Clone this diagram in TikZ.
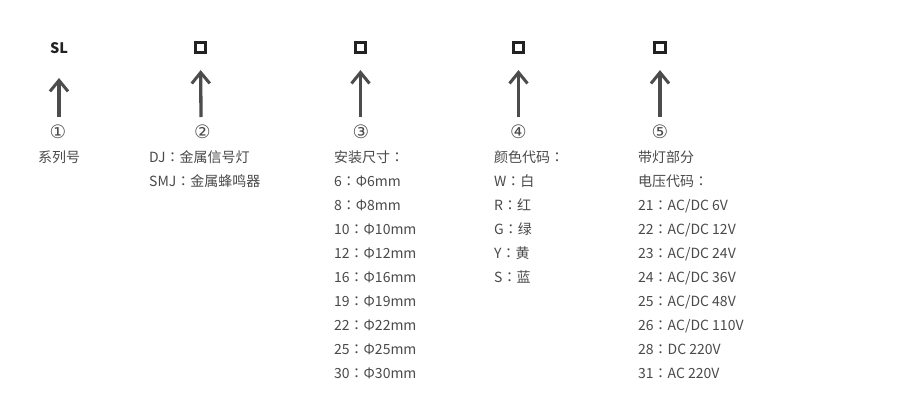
\documentclass[tikz,border=0pt]{standalone}
\usepackage{fontspec}
\setmainfont{Noto Sans CJK SC}
\newfontfamily\tcfont{Noto Sans CJK TC}
\newfontfamily\circfont{DejaVu Sans}
\newcommand\fwc{{\tcfont ：}}
\usetikzlibrary{arrows.meta}
\definecolor{txt}{HTML}{4A4A4A}
\definecolor{arr}{HTML}{4C4C4C}
\definecolor{boxc}{HTML}{222222}
\begin{document}
\begin{tikzpicture}[x=1pt,y=-1pt,
  lbl/.style={anchor=base west, inner sep=0pt, text=txt, font=\fontsize{14}{14}\selectfont},
  num/.style={anchor=center, inner sep=0pt, text=txt, font=\circfont\fontsize{18.5}{18.5}\selectfont},
  codebox/.style={draw=boxc, line width=3pt, minimum width=10.6pt, minimum height=10.2pt, inner sep=0pt},
  series/.style={anchor=base, inner sep=0pt, text=boxc, font=\fontsize{14.5}{14.5}\selectfont\bfseries},
  uparrow/.style={draw=arr, line width=3.3pt, shorten >=22.5pt,
    -{Straight Barb[length=11pt,width=18pt,line width=3pt]}}
]
\useasboundingbox[fill=white] (0,0) rectangle (900,418);

% top codes
\node[series] (s1) at (59,53) {SL};
\node[codebox] (s2) at (200.5,47.6) {};
\node[codebox] (s3) at (360.5,47.6) {};
\node[codebox] (s4) at (518.5,47.6) {};
\node[codebox] (s5) at (660,47.6) {};

% arrow feet
\coordinate (a1) at (59,117);
\coordinate (a2) at (201,117);
\coordinate (a3) at (360.5,117);
\coordinate (a4) at (518.5,117);
\coordinate (a5) at (660,117);

\draw[uparrow, shorten >=25pt] (a1) -- (s1.base);
\draw[uparrow] (a2) -- (s2.center);
\draw[uparrow] (a3) -- (s3.center);
\draw[uparrow] (a4) -- (s4.center);
\draw[uparrow] (a5) -- (s5.center);

% circled numbers
\node[num] (n1) at (58,131.5) {①};
\node[num] (n2) at (202.5,131.5) {②};
\node[num] (n3) at (361,131.5) {③};
\node[num] (n4) at (518.5,131.5) {④};
\node[num] (n5) at (660,131.5) {⑤};

% columns
\node[lbl] (c1-1) at (38,162.3) {系列号};

\foreach \t [count=\i] in {DJ\fwc 金属信号灯, SMJ\fwc 金属蜂鸣器}
  \node[lbl] (c2-\i) at (149,{162.3+24*(\i-1)}) {\t};

\foreach \t [count=\i] in {安装尺寸\fwc, 6\fwc Φ6mm, 8\fwc Φ8mm, 10\fwc Φ10mm, 12\fwc Φ12mm, 16\fwc Φ16mm, 19\fwc Φ19mm, 22\fwc Φ22mm, 25\fwc Φ25mm, 30\fwc Φ30mm}
  \node[lbl] (c3-\i) at (334,{162.3+24*(\i-1)}) {\t};

\foreach \t [count=\i] in {颜色代码\fwc, W\fwc 白, R\fwc 红, G\fwc 绿, Y\fwc 黄, S\fwc 蓝}
  \node[lbl] (c4-\i) at (494,{162.3+24*(\i-1)}) {\t};

\foreach \t [count=\i] in {带灯部分, 电压代码\fwc, 21\fwc AC/DC 6V, 22\fwc AC/DC 12V, 23\fwc AC/DC 24V, 24\fwc AC/DC 36V, 25\fwc AC/DC 48V, 26\fwc AC/DC 110V, 28\fwc DC 220V, 31\fwc AC 220V}
  \node[lbl] (c5-\i) at (638,{162.3+24*(\i-1)}) {\t};
\end{tikzpicture}
\end{document}
